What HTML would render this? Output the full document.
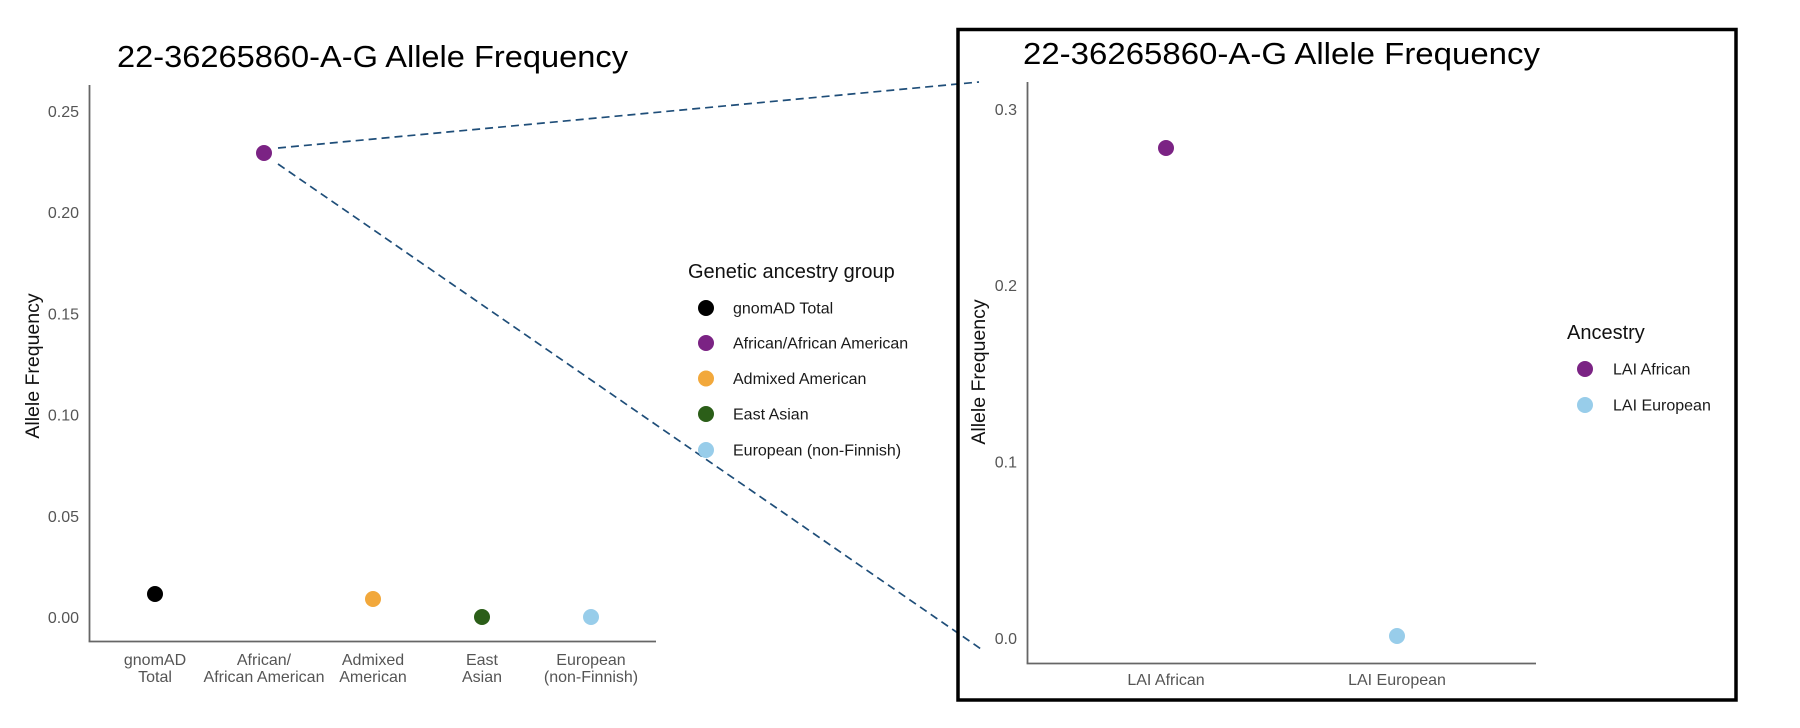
<!DOCTYPE html>
<html>
<head>
<meta charset="utf-8">
<style>
  html, body { margin: 0; padding: 0; background: #ffffff; }
  body { width: 1800px; height: 728px; overflow: hidden; }
  svg { display: block; }
  text { font-family: "Liberation Sans", Arial, Helvetica, sans-serif; }
  .tick { font-size: 16px; fill: #555555; }
  .xl { font-size: 16px; fill: #555555; text-anchor: middle; }
  .leg { font-size: 16px; fill: #1a1a1a; }
  .legt { font-size: 20px; fill: #111111; }
  .ytitle { font-size: 19.5px; fill: #111111; text-anchor: middle; }
  .title { font-size: 31px; fill: #000000; }
</style>
</head>
<body>
<svg width="1800" height="728" viewBox="0 0 1800 728" xmlns="http://www.w3.org/2000/svg">
  <rect x="0" y="0" width="1800" height="728" fill="#ffffff"/>

  <!-- ===== LEFT PANEL ===== -->
  <text class="title" x="117" y="67" textLength="511" lengthAdjust="spacingAndGlyphs">22-36265860-A-G Allele Frequency</text>

  <!-- axes -->
  <line x1="89.5" y1="85" x2="89.5" y2="641.5" stroke="#666666" stroke-width="1.8"/>
  <line x1="88.6" y1="641.5" x2="656" y2="641.5" stroke="#666666" stroke-width="1.8"/>

  <!-- y ticks -->
  <g class="tick" text-anchor="end">
    <text x="79" y="116.8">0.25</text>
    <text x="79" y="218">0.20</text>
    <text x="79" y="319.3">0.15</text>
    <text x="79" y="420.6">0.10</text>
    <text x="79" y="521.8">0.05</text>
    <text x="79" y="623.1">0.00</text>
  </g>

  <!-- y title -->
  <text class="ytitle" transform="translate(39,366) rotate(-90)" x="0" y="0">Allele Frequency</text>

  <!-- x labels -->
  <text class="xl" x="155" y="665">gnomAD</text>
  <text class="xl" x="155" y="682">Total</text>
  <text class="xl" x="264" y="665">African/</text>
  <text class="xl" x="264" y="682">African American</text>
  <text class="xl" x="373" y="665">Admixed</text>
  <text class="xl" x="373" y="682">American</text>
  <text class="xl" x="482" y="665">East</text>
  <text class="xl" x="482" y="682">Asian</text>
  <text class="xl" x="591" y="665">European</text>
  <text class="xl" x="591" y="682">(non-Finnish)</text>

  <!-- dashed connector lines -->
  <line x1="278" y1="148" x2="979" y2="82" stroke="#1f4e79" stroke-width="1.7" stroke-dasharray="8 5"/>
  <line x1="278" y1="164" x2="981" y2="649" stroke="#1f4e79" stroke-width="1.7" stroke-dasharray="8 5"/>

  <!-- points -->
  <circle cx="155" cy="594" r="8" fill="#000000"/>
  <circle cx="264" cy="153" r="8" fill="#7b2384"/>
  <circle cx="373" cy="599" r="8" fill="#f2a83b"/>
  <circle cx="482" cy="617" r="8" fill="#2b5e18"/>
  <circle cx="591" cy="617" r="8" fill="#98cdea"/>

  <!-- legend -->
  <text class="legt" x="688" y="278">Genetic ancestry group</text>
  <circle cx="706" cy="308" r="8" fill="#000000"/>
  <text class="leg" x="733" y="313.7">gnomAD Total</text>
  <circle cx="706" cy="343" r="8" fill="#7b2384"/>
  <text class="leg" x="733" y="348.7">African/African American</text>
  <circle cx="706" cy="378.5" r="8" fill="#f2a83b"/>
  <text class="leg" x="733" y="384.2">Admixed American</text>
  <circle cx="706" cy="414" r="8" fill="#2b5e18"/>
  <text class="leg" x="733" y="419.7">East Asian</text>
  <circle cx="706" cy="450" r="8" fill="#98cdea"/>
  <text class="leg" x="733" y="455.7">European (non-Finnish)</text>

  <!-- ===== RIGHT PANEL ===== -->
  <rect x="958" y="29.5" width="778" height="670.5" fill="none" stroke="#000000" stroke-width="3.5"/>

  <text class="title" x="1023" y="64" textLength="517" lengthAdjust="spacingAndGlyphs">22-36265860-A-G Allele Frequency</text>

  <line x1="1027.5" y1="82" x2="1027.5" y2="663.5" stroke="#666666" stroke-width="1.8"/>
  <line x1="1026.6" y1="663.5" x2="1536" y2="663.5" stroke="#666666" stroke-width="1.8"/>

  <g class="tick" text-anchor="end">
    <text x="1017" y="114.8">0.3</text>
    <text x="1017" y="291.1">0.2</text>
    <text x="1017" y="467.5">0.1</text>
    <text x="1017" y="643.8">0.0</text>
  </g>

  <text class="ytitle" transform="translate(985,372) rotate(-90)" x="0" y="0">Allele Frequency</text>

  <text class="xl" x="1166" y="685">LAI African</text>
  <text class="xl" x="1397" y="685">LAI European</text>

  <circle cx="1166" cy="148" r="8" fill="#7b2384"/>
  <circle cx="1397" cy="636" r="8" fill="#98cdea"/>

  <text class="legt" x="1567" y="339">Ancestry</text>
  <circle cx="1585" cy="369" r="8" fill="#7b2384"/>
  <text class="leg" x="1613" y="374.7">LAI African</text>
  <circle cx="1585" cy="405" r="8" fill="#98cdea"/>
  <text class="leg" x="1613" y="410.7">LAI European</text>
</svg>
</body>
</html>
